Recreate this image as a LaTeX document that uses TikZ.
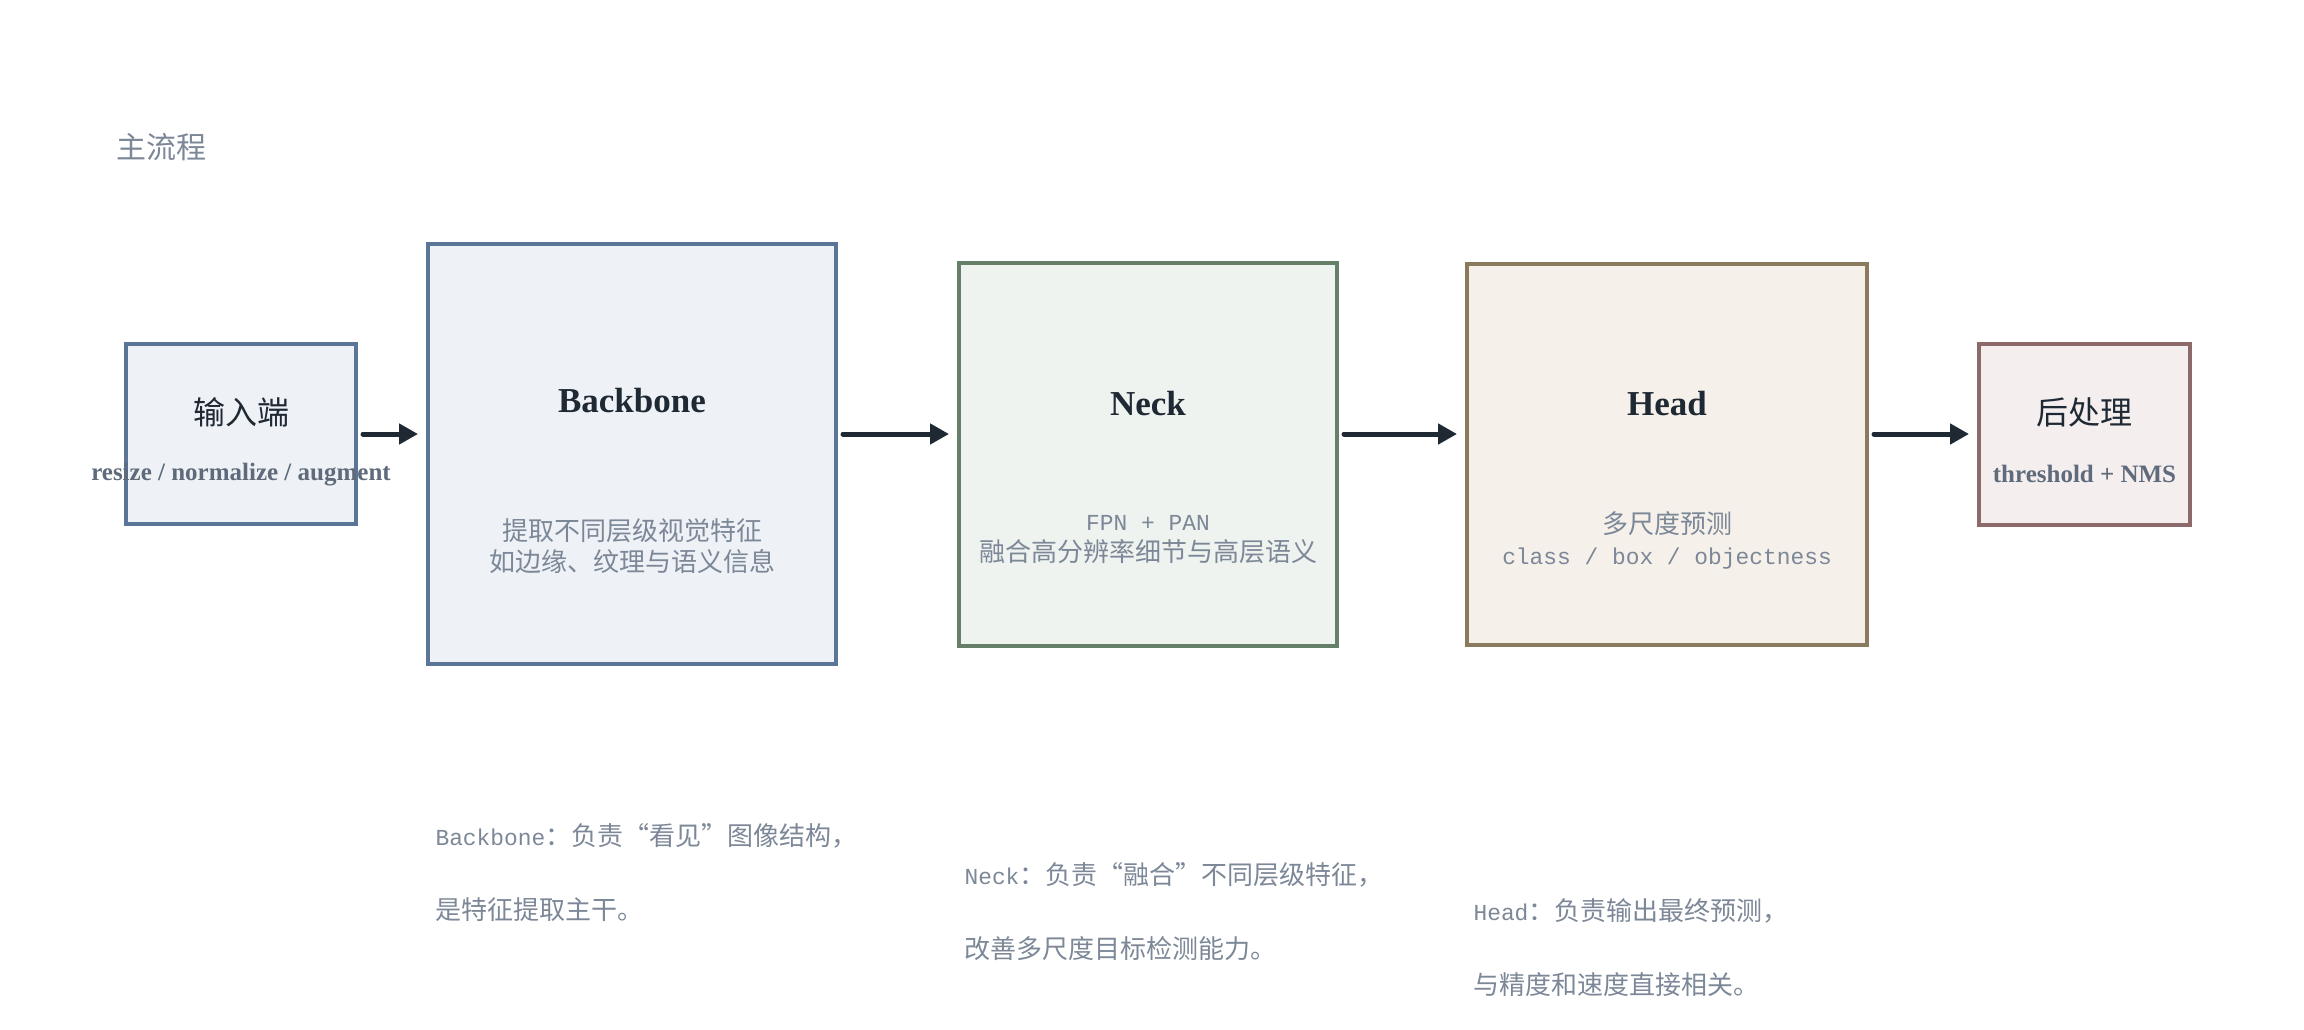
\documentclass[tikz,border=0pt]{standalone}
\usepackage{fontspec}
\setmainfont{Liberation Serif}
\newfontfamily\cjk{Noto Sans CJK SC}
\newfontfamily\monolat[Scale=0.88]{Liberation Mono}
\usepackage{xcolor}
\usepackage{tikz}
\usetikzlibrary{arrows.meta,positioning}

\definecolor{inkdark}{HTML}{1F2933}
\definecolor{slateline}{HTML}{5A7598}
\definecolor{slatefill}{HTML}{EEF2F6}
\definecolor{sageline}{HTML}{667F68}
\definecolor{sagefill}{HTML}{EEF3EF}
\definecolor{sandline}{HTML}{8B7B5E}
\definecolor{sandfill}{HTML}{F5F1EA}
\definecolor{roseline}{HTML}{8C6A6A}
\definecolor{rosefill}{HTML}{F4EEEF}
\definecolor{subgray}{HTML}{5F6B7B}
\definecolor{descgray}{HTML}{7C8797}

\begin{document}
\begin{tikzpicture}[
  x=1pt, y=-1pt,
  stagebox/.style={rectangle,line width=4pt,inner sep=0pt},
  bluebox/.style={stagebox,draw=slateline,fill=slatefill},
  greenbox/.style={stagebox,draw=sageline,fill=sagefill},
  sandbox/.style={stagebox,draw=sandline,fill=sandfill},
  rosebox/.style={stagebox,draw=roseline,fill=rosefill},
  ttl/.style={font=\bfseries\fontsize{35}{40}\selectfont,text=inkdark},
  cnttl/.style={font=\cjk\fontsize{32}{38}\selectfont,text=inkdark},
  sub/.style={font=\bfseries\fontsize{25}{30}\selectfont,text=subgray},
  desc/.style={font=\cjk\fontsize{26}{31}\selectfont,text=descgray,align=center},
  note/.style={font=\cjk\fontsize{26}{74}\selectfont,text=descgray,align=left,anchor=west},
  ar/.style={-{Triangle[length=19pt,width=20pt]},line width=5pt,draw=inkdark,line cap=round,shorten <=5pt,shorten >=8pt}
]
\path[use as bounding box] (0,0) rectangle (2304,1029);

\node[font=\cjk\fontsize{30}{36}\selectfont,text=descgray,anchor=west] (main) at (113,147) {主流程};

% stages
\node[bluebox,minimum width=230pt,minimum height=180pt] (in) at (241,434) {};
\node[bluebox,minimum width=408pt,minimum height=420pt,right=68pt of in,yshift=-20pt] (bb) {};
\node[greenbox,minimum width=378pt,minimum height=383pt,right=119pt of bb] (nk) {};
\node[sandbox,minimum width=400pt,minimum height=381pt,right=126pt of nk] (hd) {};
\node[rosebox,minimum width=211pt,minimum height=181pt,right=108pt of hd,yshift=20pt] (pp) {};

\node[cnttl] (inT) at ([yshift=22pt]in.center) {输入端};
\node[sub] (inS) at ([yshift=-41pt]in.center) {resize / normalize / augment};
\node[ttl] (bbT) at ([yshift=53pt]bb.center) {Backbone};
\node[desc] (bbD) at ([yshift=-92pt]bb.center) {提取不同层级视觉特征\\如边缘、纹理与语义信息};
\node[ttl] (nkT) at ([yshift=50pt]nk.center) {Neck};
\node[desc] (nkD) at ([yshift=-86pt]nk.center) {{\monolat FPN + PAN}\\融合高分辨率细节与高层语义};
\node[ttl] (hdT) at ([yshift=50pt]hd.center) {Head};
\node[desc] (hdD) at ([yshift=-86pt]hd.center) {多尺度预测\\{\monolat class / box / objectness}};
\node[cnttl] (ppT) at ([yshift=22pt]pp.center) {后处理};
\node[sub] (ppS) at ([yshift=-40pt]pp.center) {threshold + NMS};

% flow
\coordinate (lane) at (in.east);
\draw[ar] (in.east) -- (bb.west |- lane);
\draw[ar] (bb.east |- lane) -- (nk.west |- lane);
\draw[ar] (nk.east |- lane) -- (hd.west |- lane);
\draw[ar] (hd.east |- lane) -- (pp.west);

% notes
\node[note] (bbN) at ([xshift=6pt,yshift=-207pt]bb.south west) {{\monolat Backbone}：负责“看见”图像结构，\\是特征提取主干。};
\node[note] (nkN) at ([xshift=4pt,yshift=-264pt]nk.south west) {{\monolat Neck}：负责“融合”不同层级特征，\\改善多尺度目标检测能力。};
\node[note] (hdN) at ([xshift=5pt,yshift=-301pt]hd.south west) {{\monolat Head}：负责输出最终预测，\\与精度和速度直接相关。};
\end{tikzpicture}
\end{document}
